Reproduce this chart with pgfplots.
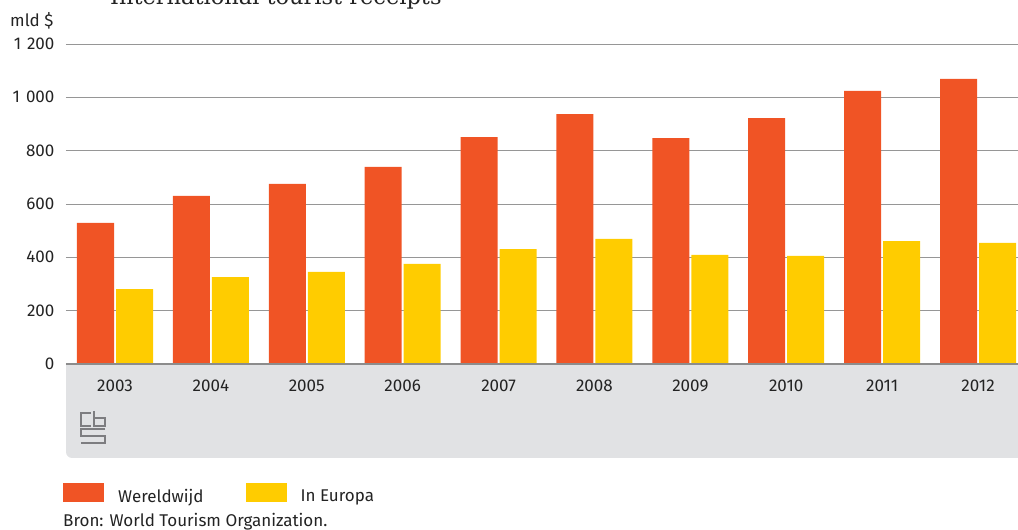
\documentclass[border=0pt]{standalone}
\usepackage{pgfplots}
\pgfplotsset{compat=1.18}
\usepackage{fontspec}
\setmainfont{Fira Sans}
\newfontfamily\titlefont{DejaVu Serif}

\definecolor{cbsorange}{RGB}{240,84,37}
\definecolor{cbsyellow}{RGB}{255,204,0}
\definecolor{bandgray}{RGB}{225,226,228}
\definecolor{gridgray}{RGB}{150,150,150}
\definecolor{zerogray}{RGB}{140,140,140}
\definecolor{textgray}{RGB}{35,35,35}
\definecolor{logogray}{RGB}{125,125,128}

\begin{document}
\begin{tikzpicture}[x=1pt,y=1pt]
\useasboundingbox (0,0) rectangle (1018,530);
\clip (0,0) rectangle (1018,530);

% title, cut off at the top as in the original
\node[anchor=base west, inner sep=0pt, font=\titlefont\fontsize{22.5}{24}\selectfont, text=textgray]
  at (110,525) {International tourist receipts};

% grey band under the axis
\begin{scope}
  \clip (0,0) rectangle (1018,166);
  \fill[bandgray, rounded corners=6pt] (66,72) rectangle (1040,200);
\end{scope}

% cbs logo (rough)
\begin{scope}[draw=logogray, line width=1.1pt, double=bandgray, double distance=1.5pt]
  \draw (91,117) -- (81,117) -- (81,104) -- (91,104);
  \draw (94,119) -- (94,104) -- (105,104) -- (105,112) -- (94,112);
  \draw (105,101) -- (81,101) -- (81,94) -- (105,94) -- (105,87) -- (81,87);
\end{scope}

% unit label
\node[anchor=west, inner sep=0pt, font=\fontsize{17}{20}\selectfont, text=textgray]
  at (10,509) {mld \$};

\begin{axis}[
  at={(66pt,166pt)}, anchor=south west,
  scale only axis, width=952pt, height=320pt,
  xmin=-0.511, xmax=9.417, ymin=0, ymax=1200,
  ybar=2pt, bar width=37pt,
  xtick={0,1,2,3,4,5,6,7,8,9},
  xticklabels={2003,2004,2005,2006,2007,2008,2009,2010,2011,2012},
  ytick={0,200,400,600,800,1000,1200},
  axis line style={draw=none},
  major tick length=0pt,
  ymajorgrids, grid style={gridgray, line width=0.9pt},
  tick label style={font=\fontsize{17}{20}\selectfont, text=textgray},
  /pgf/number format/assume math mode=true,
  /pgf/number format/1000 sep={\hspace{0.35em}},
  yticklabel style={xshift=-8pt},
  xticklabel style={yshift=-12pt},
  clip=false,
  legend columns=2,
  legend cell align=left,
  legend style={draw=none, fill=none, inner sep=0pt,
    at={(axis description cs:-0.00315,-0.372)}, anchor=north west,
    font=\fontsize{17}{20}\selectfont, text=textgray,
    /tikz/every odd column/.append style={column sep=12pt},
    /tikz/every even column/.append style={column sep=40pt}},
  legend image code/.code={\fill[#1] (0pt,-6pt) rectangle (41pt,13pt);},
]
\addplot[fill=cbsorange, draw=none] coordinates {
  (0,529) (1,630) (2,675) (3,739) (4,851) (5,937) (6,847) (7,922) (8,1024) (9,1069)
};
\addlegendentry{Wereldwijd}
\addplot[fill=cbsyellow, draw=none] coordinates {
  (0,281) (1,326) (2,345) (3,375) (4,431) (5,469) (6,409) (7,405) (8,461) (9,454)
};
\addlegendentry{In Europa}
\draw[zerogray, line width=2.6pt] (axis cs:-0.511,0) -- (axis cs:9.417,0);
\end{axis}

% source
\node[anchor=base west, inner sep=0pt, font=\fontsize{17}{20}\selectfont, text=textgray]
  at (63,3) {Bron: World Tourism Organization.};
\end{tikzpicture}
\end{document}
